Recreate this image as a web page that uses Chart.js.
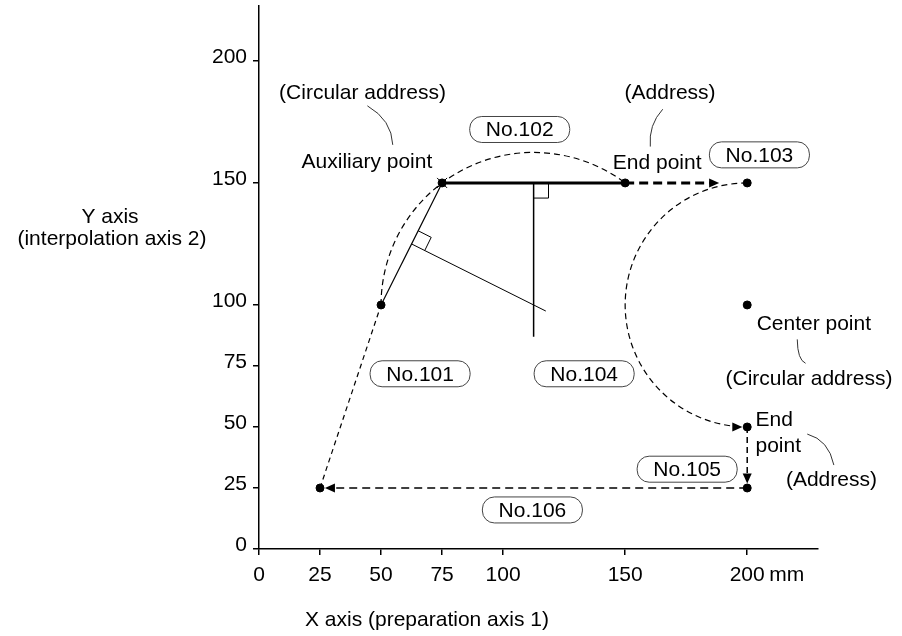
<!DOCTYPE html>
<html>
<head>
<meta charset="utf-8">
<script src="https://cdn.jsdelivr.net/npm/chart.js@4/dist/chart.umd.min.js"></script>
<style>
  html, body { margin: 0; padding: 0; background: #fff; }
</style>
</head>
<body>
<canvas id="myChart" width="902" height="636"></canvas>
<script>
const FONT = '"Liberation Sans", Arial, Helvetica, sans-serif';

// axes (mm)
const xTickValues = [0, 25, 50, 75, 100, 150, 200];
const yTickValues = [0, 25, 50, 75, 100, 150, 200];
const xUnit = 'mm';

// positioning points
const pointX = [25, 50, 75, 150, 200, 200, 200, 200];
const pointY = [25, 100, 150, 150, 150, 100, 50, 25];

// straight moves and construction lines [x1, y1, x2, y2]
const lineNo101 = [25, 25, 50, 100];
const lineNo103 = [150, 150, 186, 150];
const lineNo105 = [200, 50, 200, 29];
const lineNo106 = [200, 25, 30, 25];
const chordA = [50, 100, 75, 150];
const chordB = [75, 150, 150, 150];
const bisectorA = [62.5, 125, 117.5, 97.5];
const bisectorB = [112.5, 150, 112.5, 87];

// circular moves [centerX, centerY, radius, startDeg, endDeg]
const arcNo102 = [112.5, 100, 62.5, 180, 53.13];
const arcNo104 = [200, 100, 50, 90, 270];

// arrow heads [tipX, tipY, dirX, dirY]
const arrows = [
  [188.5, 150, 1, 0],
  [198, 50, 1, 0],
  [200, 26.8, 0, -1],
  [27, 25, -1, 0]
];

// right angle marks (polyline)
const rightAngleA = [[65.2, 130.4], [70.55, 127.7], [67.9, 122.3]];
const rightAngleB = [[112.5, 143.8], [118.6, 143.8], [118.6, 150]];

// block number boxes
const boxNames = ['No.101', 'No.102', 'No.103', 'No.104', 'No.105', 'No.106'];
const boxX = [66, 106.8, 205, 133.2, 175.4, 112];
const boxY = [71.8, 171.9, 161.5, 71.8, 32.7, 16];

// annotation texts
const noteTexts = ['(Circular address)', 'Auxiliary point', '(Address)', 'End point',
  'Center point', '(Circular address)', 'End', 'point', '(Address)'];
const noteX = [42.4, 44.2, 168.4, 163.1, 227.3, 225.3, 203.4, 203.4, 234.5];
const noteY = [186.8, 158.5, 186.8, 158.1, 92.2, 69.5, 52.9, 42.3, 28.3];
const noteAlign = ['center', 'center', 'center', 'center', 'center', 'center', 'left', 'left', 'center'];

// leader lines [x1, y1, ctrlX, ctrlY, x2, y2]
const leaders = [
  [44.4, 181.6, 54.4, 175.8, 54.8, 165.6],
  [165.4, 180.2, 159.5, 173.8, 160.3, 164.9],
  [220.5, 85.9, 220.6, 77.5, 223.9, 76.1],
  [224.6, 47.1, 233.4, 44.7, 235.5, 34.4]
];

function seg(s, width, dash) {
  return {
    type: 'scatter',
    showLine: true,
    data: [{ x: s[0], y: s[1] }, { x: s[2], y: s[3] }],
    borderColor: '#000',
    borderWidth: width,
    borderDash: dash,
    pointRadius: 0,
    clip: false
  };
}

const drawings = {
  id: 'drawings',
  afterDatasetsDraw(chart) {
    const ctx = chart.ctx;
    const xs = chart.scales.x, ys = chart.scales.y;
    const px = v => xs.getPixelForValue(v);
    const py = v => ys.getPixelForValue(v);
    ctx.save();

    // arcs
    [arcNo102, arcNo104].forEach(a => {
      const cx = px(a[0]), cy = py(a[1]);
      const rx = px(a[0] + a[2]) - cx, ry = cy - py(a[1] + a[2]);
      ctx.beginPath();
      ctx.setLineDash([6, 4]);
      ctx.lineWidth = 1.2;
      ctx.strokeStyle = '#000';
      ctx.ellipse(cx, cy, rx, ry, 0, -a[3] * Math.PI / 180, -a[4] * Math.PI / 180, a[4] > a[3]);
      ctx.stroke();
    });
    ctx.setLineDash([]);

    // arrow heads
    ctx.fillStyle = '#000';
    arrows.forEach(a => {
      const tx = px(a[0]), ty = py(a[1]);
      const dx = a[2], dy = -a[3];
      const len = 10, hw = 4.5;
      ctx.beginPath();
      ctx.moveTo(tx, ty);
      ctx.lineTo(tx - dx * len - dy * hw, ty - dy * len + dx * hw);
      ctx.lineTo(tx - dx * len + dy * hw, ty - dy * len - dx * hw);
      ctx.closePath();
      ctx.fill();
    });

    // right angle marks
    ctx.lineWidth = 1;
    ctx.strokeStyle = '#000';
    [rightAngleA, rightAngleB].forEach(m => {
      ctx.beginPath();
      m.forEach((p, i) => i ? ctx.lineTo(px(p[0]), py(p[1])) : ctx.moveTo(px(p[0]), py(p[1])));
      ctx.stroke();
    });

    // auxiliary point cross
    const ax = px(75), ay = py(150);
    ctx.lineWidth = 1;
    ctx.beginPath();
    ctx.moveTo(ax - 5, ay - 5); ctx.lineTo(ax + 5, ay + 5);
    ctx.moveTo(ax - 5, ay + 5); ctx.lineTo(ax + 5, ay - 5);
    ctx.stroke();

    // leader lines
    ctx.strokeStyle = '#333';
    ctx.lineWidth = 1;
    leaders.forEach(l => {
      ctx.beginPath();
      ctx.moveTo(px(l[0]), py(l[1]));
      ctx.quadraticCurveTo(px(l[2]), py(l[3]), px(l[4]), py(l[5]));
      ctx.stroke();
    });

    // boxes
    ctx.font = '21px ' + FONT;
    ctx.textBaseline = 'middle';
    ctx.textAlign = 'center';
    boxNames.forEach((name, i) => {
      const cx = px(boxX[i]), cy = py(boxY[i]);
      const w = 100, h = 26;
      ctx.beginPath();
      ctx.roundRect(cx - w / 2, cy - h / 2, w, h, 12);
      ctx.fillStyle = '#fff';
      ctx.fill();
      ctx.strokeStyle = '#444';
      ctx.lineWidth = 1;
      ctx.stroke();
      ctx.fillStyle = '#000';
      ctx.fillText(name, cx, cy + 1);
    });

    // notes
    noteTexts.forEach((t, i) => {
      ctx.textAlign = noteAlign[i];
      ctx.fillText(t, px(noteX[i]), py(noteY[i]));
    });

    // axis titles and unit
    ctx.textAlign = 'center';
    ctx.fillText('Y axis', 110, 217);
    ctx.fillText('(interpolation axis 2)', 112, 239);
    ctx.textAlign = 'left';
    ctx.fillText('X axis (preparation axis 1)', 305, 620);
    ctx.fillText(xUnit, px(200) + 22, 575);
    ctx.restore();
  }
};

const ctx = document.getElementById('myChart');
const myChart = new Chart(ctx, {
  type: 'scatter',
  data: {
    datasets: [
      {
        data: pointX.map((x, i) => ({ x: x, y: pointY[i] })),
        backgroundColor: '#000',
        borderColor: '#000',
        pointRadius: 4,
        pointHoverRadius: 4,
        clip: false
      },
      seg(lineNo101, 1.2, [5, 4]),
      seg(lineNo103, 3, [9, 5]),
      seg(lineNo105, 1.5, [6, 4]),
      seg(lineNo106, 1.5, [8, 5]),
      seg(chordA, 1.2, []),
      seg(chordB, 3, []),
      seg(bisectorA, 1, []),
      seg(bisectorB, 1.5, [])
    ]
  },
  options: {
    responsive: false,
    animation: false,
    layout: { padding: { top: 6, right: 84, left: 0, bottom: 0 } },
    plugins: { legend: { display: false }, tooltip: { enabled: false } },
    scales: {
      x: {
        type: 'linear',
        min: 0,
        max: 229,
        afterBuildTicks: scale => { scale.ticks = xTickValues.map(v => ({ value: v })); },
        afterFit: scale => { scale.height = 87; scale.paddingLeft = 0; scale.paddingRight = 0; },
        grid: { drawOnChartArea: false, drawTicks: true, tickLength: 6, color: '#000', lineWidth: 1.5 },
        border: { display: true, color: '#000', width: 1.5 },
        ticks: { color: '#000', font: { family: FONT, size: 21 }, padding: 8, maxRotation: 0, autoSkip: false }
      },
      y: {
        type: 'linear',
        min: 0,
        max: 222.5,
        afterBuildTicks: scale => { scale.ticks = yTickValues.map(v => ({ value: v })); },
        afterFit: scale => { scale.width = 259; scale.paddingTop = 0; scale.paddingBottom = 0; },
        grid: { drawOnChartArea: false, drawTicks: true, tickLength: 6, color: '#000', lineWidth: 1.5 },
        border: { display: true, color: '#000', width: 1.5 },
        ticks: { color: '#000', font: { family: FONT, size: 21 }, padding: 6, labelOffset: -4, autoSkip: false }
      }
    }
  },
  plugins: [drawings]
});
</script>
</body>
</html>
